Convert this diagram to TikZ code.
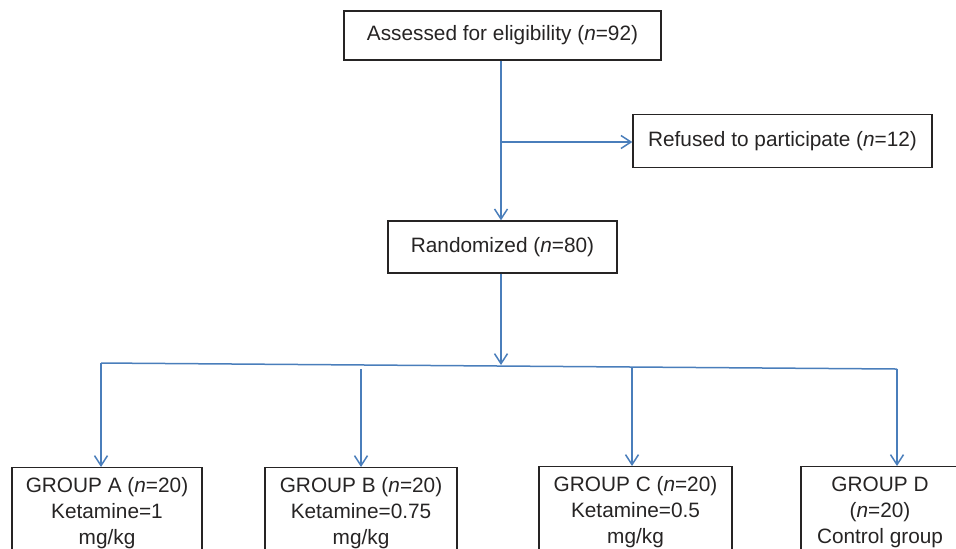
\documentclass[tikz,border=0pt]{standalone}
\usepackage{fontspec}
\setmainfont{Liberation Sans}
\definecolor{flowblue}{RGB}{74,126,187}
\definecolor{boxgray}{RGB}{38,36,36}
\tikzstyle{block} = [rectangle, draw=boxgray, line width=0.7pt, text=boxgray,
align=center, inner sep=0pt]
\tikzstyle{group} = [block, anchor=north, inner xsep=0pt, inner ysep=5pt]
\tikzstyle{line} = [draw=flowblue, line width=0.75pt, -{Straight Barb[length=5pt,width=6.5pt]}]
\tikzstyle{fork} = [draw=flowblue, line width=0.75pt]
\usetikzlibrary{arrows.meta}

\begin{document}
\begin{tikzpicture}[x=0.5pt, y=-0.5pt, font=\fontsize{10.4pt}{13pt}\selectfont]
\useasboundingbox (0,0) rectangle (956,548);
\clip (0,0) rectangle (956,548);
\node [block, minimum width=158.5pt, minimum height=24.5pt] (assess) at (502.5,35.5) {Assessed for eligibility (\textit{n}=92)};
\node [block, minimum width=149.5pt, minimum height=26.5pt] (refuse) at (782.5,141) {Refused to participate (\textit{n}=12)};
\node [block, minimum width=114.5pt, minimum height=26pt] (random) at (502.5,247) {Randomized (\textit{n}=80)};
\node [group, minimum width=95pt] (groupA) at (107,467) {GROUP A (\textit{n}=20)\\Ketamine=1\\mg/kg};
\node [group, minimum width=96pt] (groupB) at (361,467) {GROUP B (\textit{n}=20)\\Ketamine=0.75\\mg/kg};
\node [group, minimum width=96.5pt] (groupC) at (635.5,466) {GROUP C (\textit{n}=20)\\Ketamine=0.5\\mg/kg};
\node [group, minimum width=79pt] (groupD) at (880,466) {GROUP D\\(\textit{n}=20)\\Control group};
\coordinate (split) at (501,142);
\coordinate (forkM) at (501,365);
\coordinate (forkL) at (101,363);
\coordinate (forkR) at (897,369);
\coordinate (forkB) at (361,369);
\coordinate (forkC) at (632,368);
\draw [line] (split |- assess.south) -- (split |- random.north);
\draw [line] (split) -- (split -| refuse.west);
\draw [line] (split |- random.south) -- (forkM);
\path [fork] (forkL) -- (forkR);
\draw [line] (forkL) -- (forkL |- groupA.north);
\draw [line] (forkB) -- (forkB |- groupB.north);
\draw [line] (forkC) -- (forkC |- groupC.north);
\draw [line] (forkR) -- (forkR |- groupD.north);
\end{tikzpicture}
\end{document}
